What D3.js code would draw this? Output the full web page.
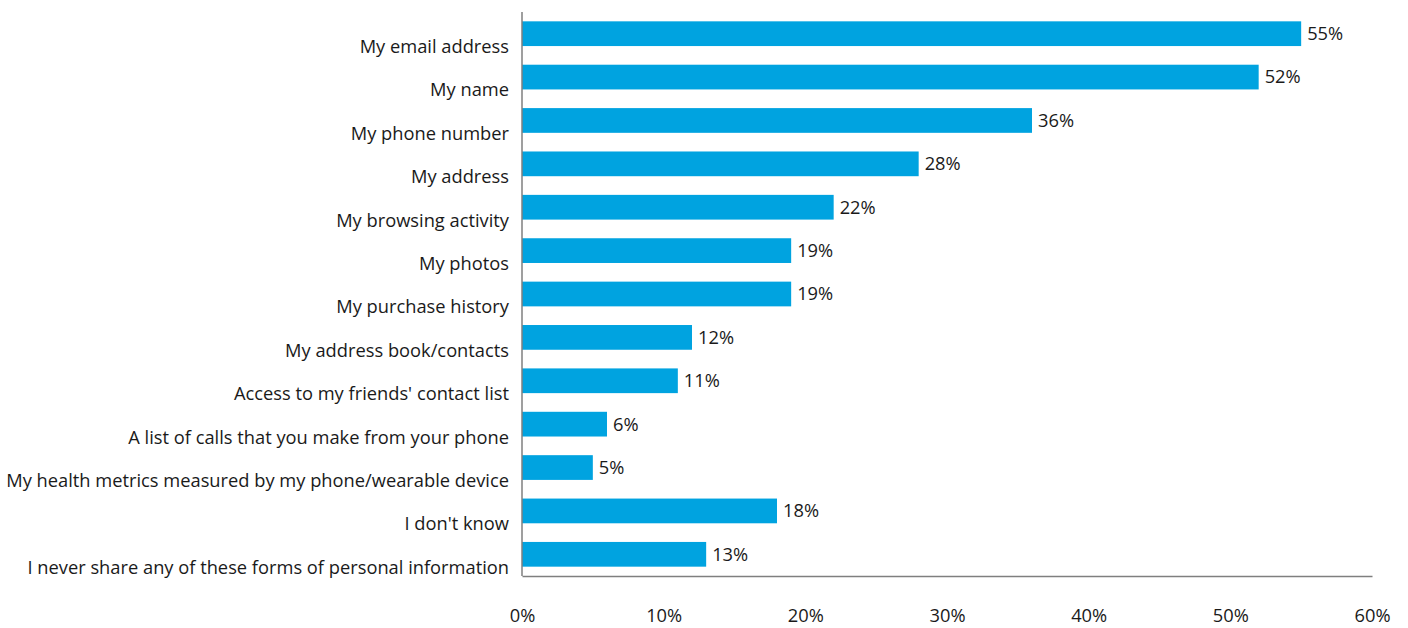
<!DOCTYPE html>
<html>
<head>
<meta charset="utf-8">
<script src="https://cdn.jsdelivr.net/npm/d3@7"></script>
<style>
  html, body { margin: 0; padding: 0; background: #fff; }
  svg { display: block; font-family: "Open Sans", sans-serif; }
</style>
</head>
<body>
<div id="chart"></div>
<script>
// Forms of personal information shared
const categories = [
  "My email address",
  "My name",
  "My phone number",
  "My address",
  "My browsing activity",
  "My photos",
  "My purchase history",
  "My address book/contacts",
  "Access to my friends' contact list",
  "A list of calls that you make from your phone",
  "My health metrics measured by my phone/wearable device",
  "I don't know",
  "I never share any of these forms of personal information"
];
const values = [55, 52, 36, 28, 22, 19, 19, 12, 11, 6, 5, 18, 13];
const xTicks = [0, 10, 20, 30, 40, 50, 60];

const width = 1408, height = 628;
const plot = { left: 522, right: 1372, top: 12, bottom: 576 };
const barColor = "#00a3e0";
const textColor = "#1a1a1a";
const axisColor = "#7f7f7f";
const fontSize = 18.3;

const svg = d3.select("#chart").append("svg")
  .attr("width", width).attr("height", height);

const x = d3.scaleLinear().domain([0, 60]).range([plot.left, plot.right]);
const y = d3.scaleBand().domain(categories).range([plot.top, plot.bottom])
  .paddingInner(0.43).paddingOuter(0.215);

// Bars
svg.append("g").selectAll("rect")
  .data(categories)
  .join("rect")
  .attr("x", x(0))
  .attr("y", d => y(d))
  .attr("width", (d, i) => x(values[i]) - x(0))
  .attr("height", y.bandwidth())
  .attr("fill", barColor);

// Value labels
svg.append("g").selectAll("text")
  .data(categories)
  .join("text")
  .attr("x", (d, i) => x(values[i]) + 6)
  .attr("y", d => y(d) + y.bandwidth() / 2)
  .attr("dy", "0.35em")
  .attr("font-size", fontSize)
  .attr("fill", textColor)
  .text((d, i) => values[i] + "%");

// Category axis (labels sit slightly below each bar)
const yAxis = svg.append("g")
  .attr("transform", `translate(${plot.left},0)`)
  .call(d3.axisLeft(y).tickSize(0).tickPadding(13));
yAxis.select(".domain").remove();
yAxis.selectAll("text")
  .attr("font-family", "Open Sans, sans-serif")
  .attr("font-size", fontSize)
  .attr("fill", textColor)
  .attr("dy", "0.35em")
  .attr("transform", "translate(0,13)");

// Vertical axis line
svg.append("line")
  .attr("x1", plot.left).attr("x2", plot.left)
  .attr("y1", plot.top).attr("y2", plot.bottom)
  .attr("stroke", axisColor).attr("stroke-width", 1.5);

// Value axis
const xAxis = svg.append("g")
  .attr("transform", `translate(0,${plot.bottom})`)
  .call(d3.axisBottom(x).tickValues(xTicks).tickSize(0)
    .tickFormat(d => d + "%"));
xAxis.select(".domain").attr("stroke", axisColor).attr("stroke-width", 1.5);
xAxis.selectAll("text")
  .attr("font-family", "Open Sans, sans-serif")
  .attr("font-size", fontSize)
  .attr("fill", textColor)
  .attr("y", 46)
  .attr("dy", 0);
</script>
</body>
</html>
